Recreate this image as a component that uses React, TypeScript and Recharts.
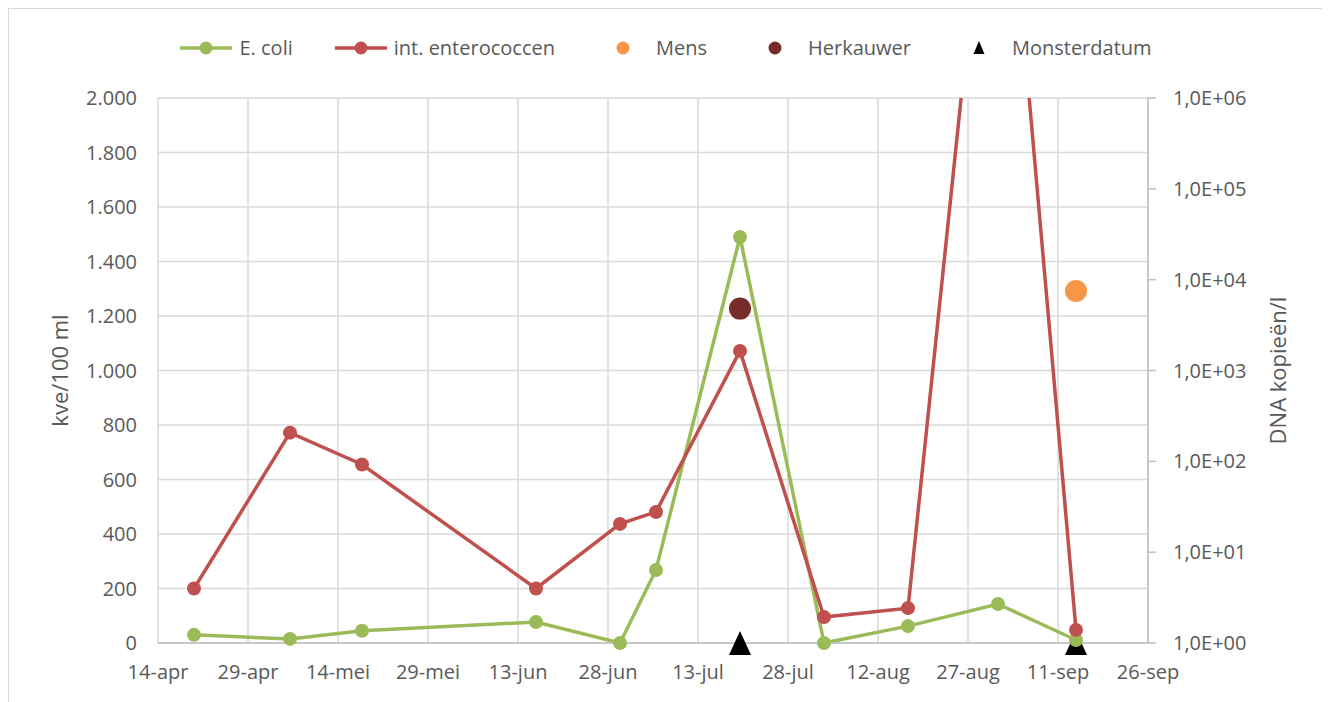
import React from "react";
import {
  ComposedChart,
  Line,
  Scatter,
  XAxis,
  YAxis,
  CartesianGrid,
  Legend,
} from "recharts";

// dates of the samples, counted in days from 14-apr
const START = Date.UTC(2023, 3, 14);
const toDay = (iso: string) => Math.round((Date.parse(iso) - START) / 86400000);

const sampleDates = [
  "2023-04-20", "2023-05-06", "2023-05-18", "2023-06-16", "2023-06-30", "2023-07-06",
  "2023-07-20", "2023-08-03", "2023-08-17", "2023-09-01", "2023-09-14",
];
const eColi = [30, 15, 45, 77, 0, 268, 1490, 0, 62, 143, 11];
const enterococci = [200, 772, 655, 200, 437, 481, 1072, 95, 128, 3300, 48];

// source tracking (DNA copies/l, right axis)
const mensDates = ["2023-09-14"];
const mensValues = [7500];
const herkauwerDates = ["2023-07-20"];
const herkauwerValues = [4800];
const monsterDates = ["2023-07-20", "2023-09-14"];
const monsterValues = [1, 1];

const xTicks = [0, 15, 30, 45, 60, 75, 90, 105, 120, 135, 150, 165];
const xTickLabels = [
  "14-apr", "29-apr", "14-mei", "29-mei", "13-jun", "28-jun",
  "13-jul", "28-jul", "12-aug", "27-aug", "11-sep", "26-sep",
];
const leftTicks = [0, 200, 400, 600, 800, 1000, 1200, 1400, 1600, 1800, 2000];
const rightTicks = [1, 10, 100, 1000, 10000, 100000, 1000000];

const GREEN = "#9BBB59";
const RED = "#C0504D";
const ORANGE = "#F79646";
const DARKRED = "#772C2A";
const TEXT = "#595959";
const GRID = "#d9d9d9";
const FONT = "'Open Sans', sans-serif";

const lineData = sampleDates.map((d, i) => ({
  t: toDay(d),
  ecoli: eColi[i],
  entero: enterococci[i],
}));
const mensData = mensDates.map((d, i) => ({ t: toDay(d), v: mensValues[i] }));
const herkauwerData = herkauwerDates.map((d, i) => ({ t: toDay(d), v: herkauwerValues[i] }));
const monsterData = monsterDates.map((d, i) => ({ t: toDay(d), v: monsterValues[i] }));

const fmtLeft = (v: number) => String(v).replace(/\B(?=(\d{3})+(?!\d))/g, ".");
const fmtRight = (v: number) => {
  const e = Math.round(Math.log10(v));
  return `1,0E+${String(e).padStart(2, "0")}`;
};
const fmtX = (v: number) => xTickLabels[xTicks.indexOf(v)] ?? "";

const Circle = (r: number, fill: string) => (props: any) =>
  props.cx == null ? null : <circle cx={props.cx} cy={props.cy} r={r} fill={fill} />;

const Triangle = (props: any) => {
  const { cx, cy } = props;
  if (cx == null) return null;
  return <polygon points={`${cx},${cy - 12} ${cx - 11},${cy + 12} ${cx + 11},${cy + 12}`} fill="#000" />;
};

const legendItems = [
  { label: "E. coli", kind: "line", color: GREEN },
  { label: "int. enterococcen", kind: "line", color: RED },
  { label: "Mens", kind: "dot", color: ORANGE },
  { label: "Herkauwer", kind: "dot", color: DARKRED },
  { label: "Monsterdatum", kind: "tri", color: "#000" },
];

function LegendContent() {
  return (
    <div style={{ display: "flex", justifyContent: "center", alignItems: "center", fontFamily: FONT, fontSize: 20, color: TEXT }}>
      {legendItems.map((it, i) => (
        <div key={it.label} style={{ display: "flex", alignItems: "center", marginRight: i < legendItems.length - 1 ? 42 : 0 }}>
          <svg width={52} height={20} style={{ marginRight: 7 }}>
            {it.kind === "line" && (
              <>
                <line x1={0} y1={10} x2={52} y2={10} stroke={it.color} strokeWidth={3.5} />
                <circle cx={26} cy={10} r={6.5} fill={it.color} />
              </>
            )}
            {it.kind === "dot" && <circle cx={26} cy={10} r={6.5} fill={it.color} />}
            {it.kind === "tri" && <polygon points="26,3 20.5,16 31.5,16" fill={it.color} />}
          </svg>
          <span>{it.label}</span>
        </div>
      ))}
    </div>
  );
}

export default function App() {
  return (
    <div style={{ width: 1314, height: 700, border: `1px solid ${GRID}`, fontFamily: FONT }}>
      <ComposedChart
        width={1314}
        height={700}
        data={lineData}
        margin={{ top: 89, right: 55, bottom: 36, left: 49 }}
      >
        <CartesianGrid stroke={GRID} strokeWidth={1.5} yAxisId="left" />
        <XAxis
          dataKey="t"
          type="number"
          domain={[0, 165]}
          ticks={xTicks}
          tickFormatter={fmtX}
          interval={0}
          tick={{ fontSize: 20, fill: TEXT, fontFamily: FONT }}
          axisLine={{ stroke: "#bfbfbf", strokeWidth: 1.5 }}
          tickLine={false}
          tickSize={0}
          tickMargin={22}
          height={30}
        />
        <YAxis
          yAxisId="left"
          orientation="left"
          domain={[0, 2000]}
          ticks={leftTicks}
          allowDataOverflow
          interval={0}
          tickFormatter={fmtLeft}
          tick={{ fontSize: 20, fill: TEXT, fontFamily: FONT }}
          axisLine={false}
          tickLine={false}
          tickSize={0}
          tickMargin={21}
          width={100}
          label={{
            value: "kve/100 ml",
            angle: -90,
            position: "insideLeft",
            offset: 2,
            style: { textAnchor: "middle", fontSize: 22, fill: TEXT, fontFamily: FONT },
          }}
        />
        <YAxis
          yAxisId="right"
          orientation="right"
          scale="log"
          domain={[1, 1000000]}
          ticks={rightTicks}
          interval={0}
          tickFormatter={fmtRight}
          tick={{ fontSize: 20, fill: TEXT, fontFamily: FONT }}
          axisLine={{ stroke: "#bfbfbf", strokeWidth: 1.5 }}
          tickLine={{ stroke: "#bfbfbf", strokeWidth: 1.5 }}
          tickSize={8}
          tickMargin={17}
          width={120}
          label={{
            value: "DNA kopieën/l",
            angle: -90,
            position: "insideRight",
            offset: -10,
            style: { textAnchor: "middle", fontSize: 22, fill: TEXT, fontFamily: FONT },
          }}
        />
        <Legend
          verticalAlign="middle"
          align="center"
          layout="horizontal"
          content={<LegendContent />}
          wrapperStyle={{ top: 25, left: 0, width: 1314 }}
        />
        <Line
          yAxisId="left"
          dataKey="ecoli"
          name="E. coli"
          stroke={GREEN}
          strokeWidth={3.5}
          dot={{ r: 7, fill: GREEN, stroke: GREEN, strokeWidth: 0, clipDot: false }}
          activeDot={false}
          isAnimationActive={false}
        />
        <Line
          yAxisId="left"
          dataKey="entero"
          name="int. enterococcen"
          stroke={RED}
          strokeWidth={3.5}
          dot={{ r: 7, fill: RED, stroke: RED, strokeWidth: 0, clipDot: false }}
          activeDot={false}
          isAnimationActive={false}
        />
        <Scatter yAxisId="right" data={herkauwerData} dataKey="v" name="Herkauwer" shape={Circle(11, DARKRED)} isAnimationActive={false} />
        <Scatter yAxisId="right" data={mensData} dataKey="v" name="Mens" shape={Circle(11, ORANGE)} isAnimationActive={false} />
        <Scatter yAxisId="right" data={monsterData} dataKey="v" name="Monsterdatum" shape={Triangle} isAnimationActive={false} />
      </ComposedChart>
    </div>
  );
}
